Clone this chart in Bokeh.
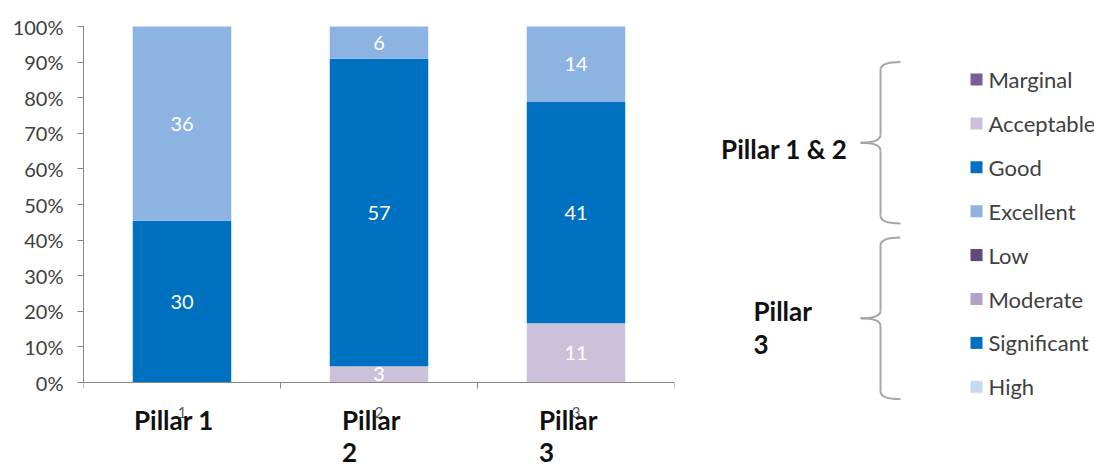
from bokeh.plotting import figure
from bokeh.layouts import row
from bokeh.models import Range1d, FixedTicker, NumeralTickFormatter, ColumnDataSource
from bokeh.core.properties import value
from bokeh.embed import file_html
from bokeh.resources import INLINE

# ---- data ----
categories = ["1", "2", "3"]
pillar_names = ["Pillar 1", "Pillar\n2", "Pillar\n3"]
series = ["Marginal", "Acceptable", "Good", "Excellent", "Low", "Moderate", "Significant", "High"]
marginal = [0, 0, 0]
acceptable = [0, 3, 11]
good = [30, 57, 41]
excellent = [36, 6, 14]
low = [0, 0, 0]
moderate = [0, 0, 0]
significant = [0, 0, 0]
high = [0, 0, 0]
colors = ["#7A5E96", "#CCC1DA", "#0070C0", "#8DB3E2", "#604A7B", "#B3A2C7", "#0070C0", "#C6D9F1"]
groups = [("Pillar 1 & 2", 0, 3), ("Pillar\n3", 4, 7)]
y_ticks = [i / 10 for i in range(11)]

values = [marginal, acceptable, good, excellent, low, moderate, significant, high]
FONT = "Lato"
AXIS_GRAY = "#868686"

# ---- main chart (frame spans full height; plot area is y in [0, 1]) ----
H = 464
top_px, axis_px = 26, 382          # pixel rows of 100% and 0%
unit = axis_px - top_px            # pixels per 100%
px = lambda d: d / unit            # pixel distance -> data units

totals = [sum(v[i] for v in values) for i in range(len(categories))]
xs = [i + 0.5 for i in range(len(categories))]
data = {"x": xs}
for name, vals in zip(series, values):
    data[name] = [v / t for v, t in zip(vals, totals)]
source = ColumnDataSource(data)

p1 = figure(width=680, height=H, x_range=Range1d(0, len(categories)),
            y_range=Range1d(-px(H - axis_px), 1 + px(top_px)),
            x_axis_location=None,
            output_backend="svg", toolbar_location=None,
            min_border_left=83, min_border_right=6, min_border_top=0, min_border_bottom=0)
p1.grid.visible = False
p1.outline_line_color = None

p1.vbar_stack(series, x="x", width=0.5, color=colors, line_color=None, source=source)

# data labels
lx, ly, lt = [], [], []
for i in range(len(categories)):
    base = 0.0
    for vals in values:
        v = vals[i]
        if v > 0:
            frac = v / totals[i]
            lx.append(xs[i]); ly.append(base + frac / 2); lt.append(str(v))
            base += frac
p1.text(x=lx, y=ly, text=lt, text_color="white", text_font=value(FONT), text_font_size="20px",
        text_align="center", text_baseline="middle")

# category axis: line, boundary ticks, small labels
p1.segment(x0=[0], y0=[0], x1=[len(categories)], y1=[0], line_color=AXIS_GRAY, line_width=1)
bounds = list(range(len(categories) + 1))
p1.segment(x0=bounds, y0=[0] * len(bounds), x1=bounds, y1=[-px(6)] * len(bounds),
           line_color=AXIS_GRAY, line_width=1)
p1.text(x=xs, y=[-px(30)] * len(xs), text=categories, text_color="#595959", text_font=value(FONT),
        text_font_size="15px", text_align="center", text_baseline="middle")
label_offsets = [-48, -37, -37]
p1.text(x=xs, y=[-px(21)] * len(xs), text=pillar_names, x_offset=label_offsets,
        text_color="#111111", text_font=value(FONT), text_font_size="26px", text_font_style="bold",
        text_align="left", text_baseline="top", text_line_height=1.0)

ya = p1.yaxis[0]
ya.bounds = (0, 1)
ya.ticker = FixedTicker(ticks=y_ticks, minor_ticks=[])
ya.formatter = NumeralTickFormatter(format="0%")
ya.axis_line_color = AXIS_GRAY
ya.major_tick_line_color = AXIS_GRAY
ya.major_tick_out = 6
ya.major_tick_in = 0
ya.minor_tick_line_color = None
ya.major_label_text_font = FONT
ya.major_label_text_font_size = "20px"
ya.major_label_text_color = "#404040"
ya.major_label_standoff = 14

# ---- legend panel ----
row0, pitch = 79, 43.9
p2 = figure(width=414, height=H, x_range=Range1d(680, 1094),
            y_range=Range1d((H - row0) / pitch, -row0 / pitch),
            output_backend="svg", toolbar_location=None,
            x_axis_location=None, y_axis_location=None,
            min_border=0, min_border_left=0, min_border_right=0, min_border_top=0, min_border_bottom=0)
p2.grid.visible = False
p2.outline_line_color = None

rows = list(range(len(series)))
p2.scatter(x=[976] * len(series), y=rows, marker="square", size=12, fill_color=colors, line_color=None)
p2.text(x=[988] * len(series), y=rows, text=series, text_font=value(FONT), text_font_size="22px",
        text_color="#404040", text_align="left", text_baseline="middle")

# braces
bx, arm, tip = 880, 900, 860
r = 0.18
mids = []
for gname, a, b in groups:
    top, bot = a - 0.4, b + 0.28
    mid = (top + bot) / 2
    mids.append(mid)
    p2.quadratic(x0=[arm, bx, tip, bx], y0=[top, mid - r, mid, bot - r],
                 x1=[bx, tip, bx, arm], y1=[top + r, mid, mid + r, bot],
                 cx=[bx, bx, bx, bx], cy=[top, mid, mid, bot],
                 line_color="#A6A6A6", line_width=2)
    p2.segment(x0=[bx, bx], y0=[top + r, mid + r], x1=[bx, bx], y1=[mid - r, bot - r],
               line_color="#A6A6A6", line_width=2)

p2.text(x=[847], y=[mids[0]], text=[groups[0][0]], text_font=value(FONT),
        text_font_size="26px", text_font_style="bold", text_color="#111111",
        text_align="right", text_baseline="middle", y_offset=6)
p2.text(x=[753], y=[mids[1]], text=[groups[1][0]], text_font=value(FONT),
        text_font_size="26px", text_font_style="bold", text_color="#111111",
        text_align="left", text_baseline="middle", text_line_height=1.03, y_offset=9)

layout = row(p1, p2)
open("out.html", "w").write(file_html(layout, INLINE))
